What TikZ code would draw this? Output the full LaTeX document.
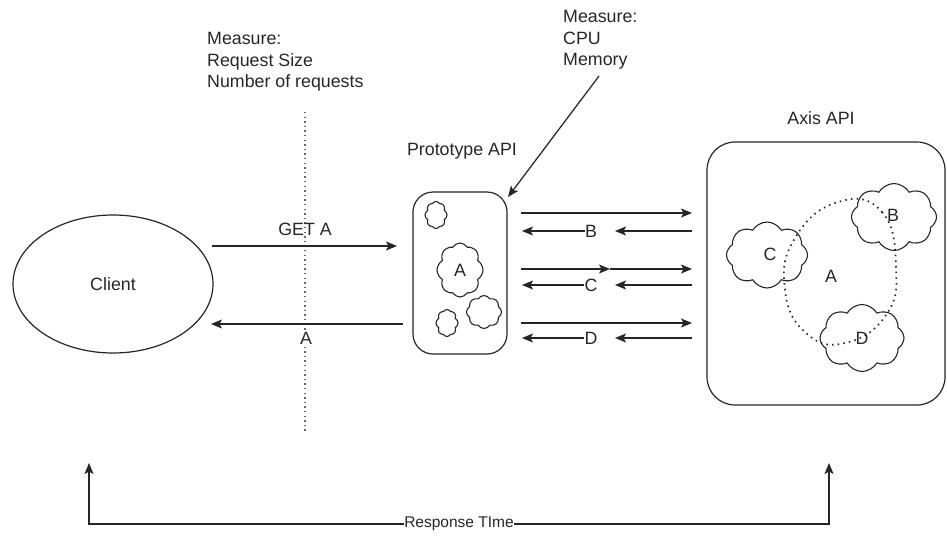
\documentclass[tikz,border=0pt]{standalone}
\usepackage{fontspec}
\setmainfont{Liberation Sans}
\usetikzlibrary{arrows.meta,shapes.symbols,shapes.geometric}

\begin{document}
\begin{tikzpicture}[x=1pt,y=-1pt,
  every node/.style={font=\fontsize{17.8}{21.3}\selectfont, inner sep=0pt, text=black!85},
  line/.style={line width=1.25pt, draw=black!85},
  arr/.style={line, -{Stealth[length=11pt,width=9pt,inset=2.5pt]}},
  puff/.style={cloud, draw=black!85, line width=1.1pt, cloud puffs=8,
    cloud puff arc=120, cloud ignores aspect, inner sep=0pt},
  panel/.style={draw=black!85, line width=1.2pt, rectangle},
  guide/.style={draw=black!60, line width=1.1pt, dash pattern=on 1.4pt off 3.2pt},
  scopeline/.style={draw=black!85, line width=1.7pt, dash pattern=on 1.5pt off 4.2pt},
  smalltext/.style={font=\fontsize{15.5}{18}\selectfont}]

\useasboundingbox (0,0) rectangle (947,536);

% client
\node[ellipse, draw=black!85, line width=1.2pt, minimum width=200pt, minimum height=138pt]
  (client) at (113,284) {Client};

% measurement line between client and prototype
\coordinate (gtop) at (305,112);
\coordinate (gbot) at (305,432);
\draw[guide] (gtop) -- (gbot);

\node[anchor=west, align=left] (m1) at (207,62) {Measure:\\Request Size\\Number of requests};

% request / response between client and prototype
\coordinate (getS) at (212,246);
\coordinate (getE) at (397,246);
\draw[arr] (getS) -- (getE);
\node (getlbl) at (305,229) {GET A};

\coordinate (retS) at (403,324);
\coordinate (retE) at (211,324);
\draw[arr] (retS) -- (retE);
\node[fill=white, inner sep=1pt] (retlbl) at (306,338) {A};

% prototype API
\node (protolbl) at (462,151) {Prototype API};
\node[panel, rounded corners=20pt, minimum width=94pt, minimum height=162pt] (proto) at (460,273) {};
\node[puff, minimum width=22pt, minimum height=27pt] (p1) at (436,215) {};
\node[puff, minimum width=46pt, minimum height=54pt] (p2) at (460,270) {A};
\node[puff, minimum width=35pt, minimum height=33pt] (p3) at (484,312) {};
\node[puff, minimum width=22pt, minimum height=27pt] (p4) at (447,323) {};

\node[anchor=west, align=left] (m2) at (563,40) {Measure:\\CPU\\Memory};
\coordinate (ptrS) at (599,76);
\coordinate (ptrE) at (508,197);
\draw[arr] (ptrS) -- (ptrE);

% calls between prototype and Axis
\coordinate (bRs) at (521,213);
\coordinate (bRe) at (692,213);
\draw[arr] (bRs) -- (bRe);
\coordinate (bLs) at (692,231);
\coordinate (bLm) at (615,231);
\coordinate (bLe) at (522,231);
\node (blbl) at (591,231) {B};
\draw[arr] (bLs) -- (bLm);
\draw[arr] (blbl.west) -- (bLe);

\coordinate (cRs) at (521,269);
\coordinate (cRm) at (610,269);
\coordinate (cRe) at (692,269);
\draw[arr] (cRs) -- (cRm);
\draw[arr] (cRm) -- (cRe);
\coordinate (cLs) at (692,285);
\coordinate (cLm) at (615,285);
\coordinate (cLe) at (522,285);
\node (clbl) at (591,285) {C};
\draw[arr] (cLs) -- (cLm);
\draw[arr] (clbl.west) -- (cLe);

\coordinate (dRs) at (521,323);
\coordinate (dRe) at (692,323);
\draw[arr] (dRs) -- (dRe);
\coordinate (dLs) at (692,338);
\coordinate (dLm) at (615,338);
\coordinate (dLe) at (522,338);
\node (dlbl) at (591,338) {D};
\draw[arr] (dLs) -- (dLm);
\draw[arr] (dlbl.west) -- (dLe);

% Axis API
\node (axislbl) at (821,118) {Axis API};
\node[panel, rounded corners=28pt, minimum width=238pt, minimum height=263pt] (axis) at (826,273.5) {};
\node[puff, minimum width=81pt, minimum height=66pt] (ac) at (767,255) {};
\node[puff, minimum width=85pt, minimum height=67pt] (ab) at (894,217) {};
\node[puff, minimum width=84pt, minimum height=67pt] (ad) at (862,338) {};
\node (aclbl) at (770,254) {C};
\node (ablbl) at (893,215) {B};
\node (adlbl) at (862,338) {D};
\node (aalbl) at (831,276) {A};
\draw[scopeline] plot[smooth cycle, tension=0.8] coordinates
  {(838,202) (882,212) (896,268) (886,315) (845,343) (806,333) (785,290) (795,238)};

% response time span
\node[smalltext] (rt) at (459,524) {Response TIme};
\coordinate (rtL) at (89,463);
\coordinate (rtR) at (829,463);
\draw[arr] (rt.west) -| (rtL);
\draw[arr] (rt.east) -| (rtR);

\end{tikzpicture}
\end{document}
